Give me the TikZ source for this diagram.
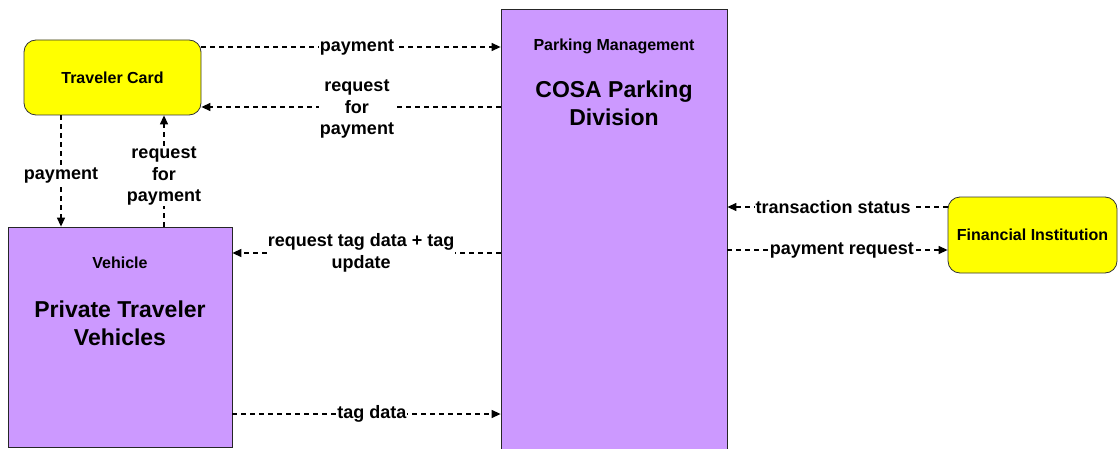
\documentclass[tikz,border=0pt]{standalone}
\usepackage{fontspec}
\setmainfont{Liberation Sans}
\usetikzlibrary{arrows.meta}
\definecolor{lilac}{HTML}{CC99FF}
\definecolor{cardyellow}{HTML}{FFFF00}
\tikzset{
  ybox/.style={draw=black!80, line width=0.8pt, fill=cardyellow, rounded corners=12pt, inner sep=0pt, font=\fontsize{16}{19}\selectfont\bfseries},
  pbox/.style={draw=black!85, line width=0.8pt, fill=lilac, inner sep=0pt},
  flow/.style={dash pattern=on 5pt off 4pt, line width=1.3pt, -{Triangle[length=9pt,width=8pt]}},
  lbl/.style={fill=white, inner sep=1pt, align=center, font=\fontsize{18}{21.5}\selectfont\bfseries},
  small/.style={font=\fontsize{16}{19}\selectfont\bfseries, align=center},
  big/.style={font=\fontsize{23}{28}\selectfont\bfseries, align=center},
}
\begin{document}
\begin{tikzpicture}[x=1pt,y=-1pt]
\useasboundingbox (0,0) rectangle (1118,449);
% boxes
\node[ybox, minimum width=177pt, minimum height=75pt] (tc) at (112.5,77.5) {Traveler Card};
\node[pbox, minimum width=224pt, minimum height=220pt] (veh) at (120,337) {};
\node[pbox, minimum width=226pt, minimum height=446pt] (pm) at (614,232) {};
\node[ybox, minimum width=169pt, minimum height=76pt] (fi) at (1032.5,235) {Financial Institution};
% box texts
\node[small] (vehtitle) at (120,263) {Vehicle};
\node[big] (vehname) at (120,323) {Private Traveler\\Vehicles};
\node[small] (pmtitle) at (614,46) {Parking Management};
\node[big] (pmname) at (614,103) {COSA Parking\\Division};
% helper coordinates for connector heights
\coordinate (y47) at (0,47);
\coordinate (y107) at (0,107);
\coordinate (y253) at (0,253);
\coordinate (y414) at (0,414);
\coordinate (y207) at (0,207);
\coordinate (y250) at (0,250);
\coordinate (x61) at (61,0);
\coordinate (x164) at (164,0);
% connectors
\draw[flow] (tc.east |- y47) -- node[lbl, pos=0.52] (l1) {payment} (pm.west |- y47);
\draw[flow] (pm.west |- y107) -- node[lbl, pos=0.48, yshift=-2pt] (l2) {request\\for\\payment} (tc.east |- y107);
\draw[flow] (tc.south -| x61) -- node[lbl, pos=0.54] (l3) {payment} (veh.north -| x61);
\draw[flow] (veh.north -| x164) -- node[lbl, pos=0.455] (l4) {request\\for\\payment} (tc.south -| x164);
\draw[flow] (pm.west |- y253) -- node[lbl, pos=0.52] (l5) {request tag data + tag\\update} (veh.east |- y253);
\draw[flow] (veh.east |- y414) -- node[lbl, pos=0.52] (l6) {tag data} (pm.west |- y414);
\draw[flow] (fi.west |- y207) -- node[lbl, pos=0.52] (l7) {transaction status} (pm.east |- y207);
\draw[flow] (pm.east |- y250) -- node[lbl, pos=0.52] (l8) {payment request} (fi.west |- y250);
\end{tikzpicture}
\end{document}
